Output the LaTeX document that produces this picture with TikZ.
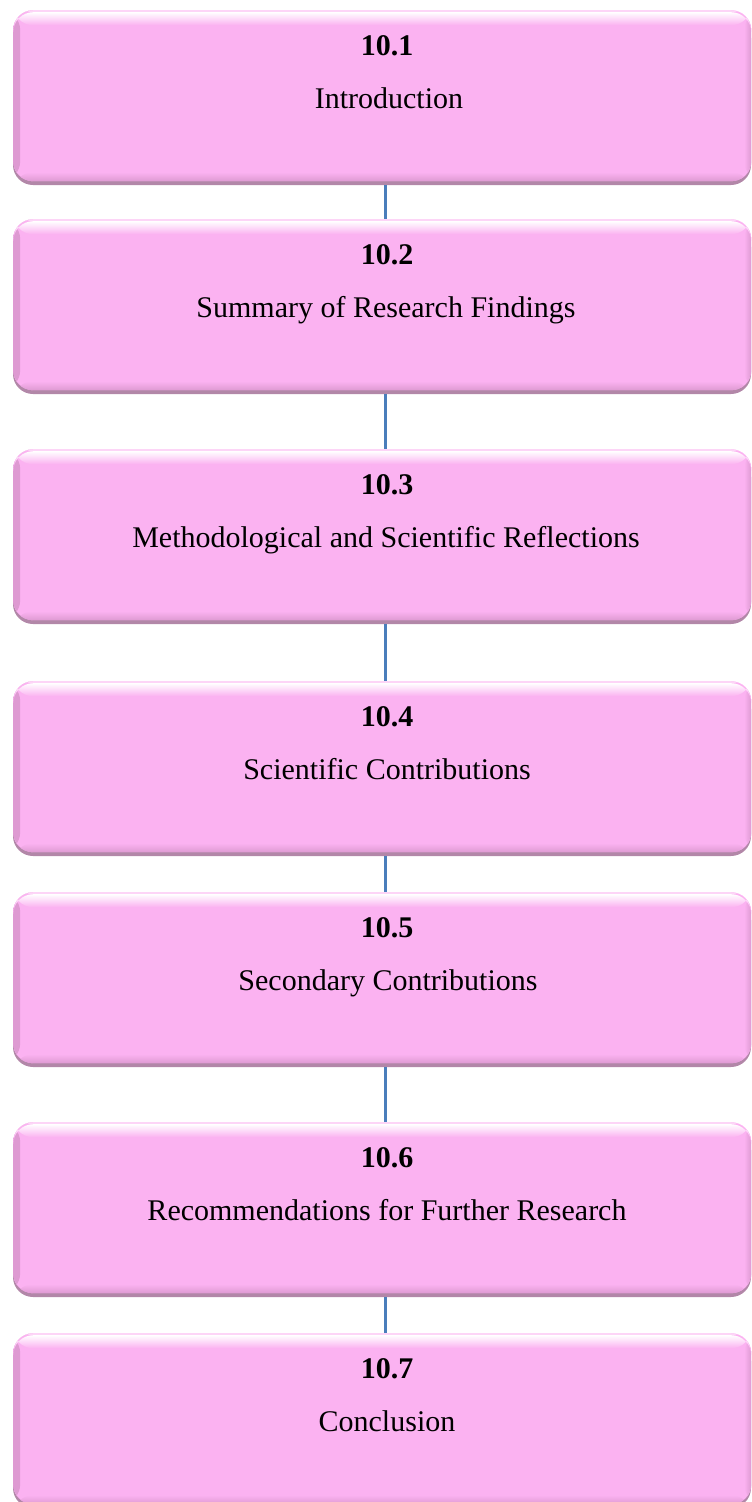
\documentclass[tikz,border=0pt]{standalone}
\usepackage{fontspec}
\setmainfont{Liberation Serif}
\definecolor{boxpink}{HTML}{FBB2F1}
\definecolor{boxshadow}{HTML}{B287A8}
\definecolor{boxedge}{HTML}{DE9AD2}
\definecolor{linkblue}{HTML}{4A7EBB}
\tikzset{
  stage/.style={rectangle, rounded corners=20pt, minimum width=738pt,
    minimum height=171pt, fill=boxpink, inner sep=0pt, anchor=north west,
    path picture={
      \shade[left color=boxedge, right color=boxpink]
        (path picture bounding box.north west) rectangle ([xshift=7pt]path picture bounding box.south west);
      \shade[right color=boxedge, left color=boxpink]
        (path picture bounding box.north east) rectangle ([xshift=-7pt]path picture bounding box.south east);
      \shade[bottom color=boxedge, top color=boxpink]
        (path picture bounding box.south west) rectangle ([yshift=9pt]path picture bounding box.south east);
      \fill[boxpink!55!white]
        (path picture bounding box.north west) rectangle ([yshift=-2pt]path picture bounding box.north east);
      \shade[top color=white, bottom color=boxpink]
        ([yshift=-2pt]path picture bounding box.north west) rectangle ([yshift=-15pt]path picture bounding box.north east);
    }},
  shadowbox/.style={fill=boxshadow, rounded corners=20pt},
  num/.style={font=\fontsize{30}{36}\selectfont\bfseries, anchor=base, inner sep=0pt},
  title/.style={font=\fontsize{30}{36}\selectfont, anchor=base, inner sep=0pt},
  link/.style={draw=linkblue, line width=3pt}
}
\begin{document}
\begin{tikzpicture}[x=1pt,y=1pt]
\useasboundingbox (0,0) rectangle (752,-1502);
\foreach \t/\k in {10/1,219/2,449/3,681/4,892/5,1122/6,1333/7}{
  \fill[shadowbox] (13,-\t-8) rectangle (751,-\t-175);
  \node[stage] (b\k) at (13,-\t) {};
}
\node[num]   (n1) at (387,-55)  {10.1};
\node[title] (t1) at (389,-108) {Introduction};
\node[num]   (n2) at (387,-264) {10.2};
\node[title] (t2) at (386,-317) {Summary of Research Findings};
\node[num]   (n3) at (387,-494) {10.3};
\node[title] (t3) at (386,-547) {Methodological and Scientific Reflections};
\node[num]   (n4) at (387,-726) {10.4};
\node[title] (t4) at (387,-779) {Scientific Contributions};
\node[num]   (n5) at (387,-937) {10.5};
\node[title] (t5) at (388,-990) {Secondary Contributions};
\node[num]   (n6) at (387,-1167) {10.6};
\node[title] (t6) at (387,-1220) {Recommendations for Further Research};
\node[num]   (n7) at (387,-1378) {10.7};
\node[title] (t7) at (387,-1431) {Conclusion};
\foreach \a/\b in {1/2,2/3,3/4,4/5,5/6,6/7}{
  \draw[link] ([xshift=3.5pt,yshift=-4pt]b\a.south) -- ([xshift=3.5pt]b\b.north);
}
\end{tikzpicture}
\end{document}
